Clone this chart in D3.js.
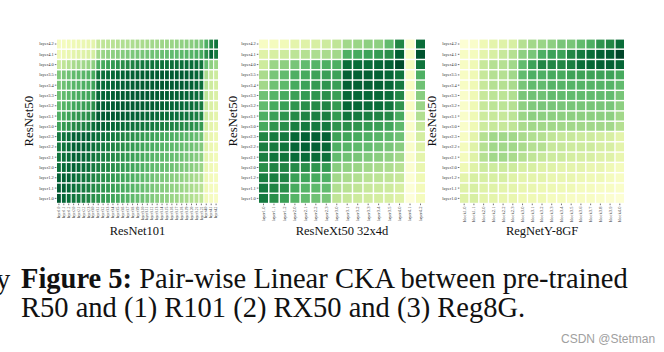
<!DOCTYPE html>
<html lang="en">
<head>
<meta charset="UTF-8">
<title>Pair-wise Linear CKA</title>
<script src="https://d3js.org/d3.v7.min.js"></script>
<style>
    body { margin: 0; background: #fff; }
    svg { display: block; }
</style>
</head>
<body>
<div id="chart"></div>
<script>
// ResNet50 layers (rows, top to bottom)
var rowLabels = ["layer4.2","layer4.1","layer4.0","layer3.5","layer3.4","layer3.3","layer3.2","layer3.1",
    "layer3.0","layer2.3","layer2.2","layer2.1","layer2.0","layer1.2","layer1.1","layer1.0"];

var r101Cols = ["layer1.0","layer1.1","layer1.2","layer2.0","layer2.1","layer2.2","layer2.3",
    "layer3.0","layer3.1","layer3.2","layer3.3","layer3.4","layer3.5","layer3.6","layer3.7","layer3.8",
    "layer3.9","layer3.10","layer3.11","layer3.12","layer3.13","layer3.14","layer3.15","layer3.16",
    "layer3.17","layer3.18","layer3.19","layer3.20","layer3.21","layer3.22","layer4.0","layer4.1","layer4.2"];

var rx50Cols = ["layer1.0","layer1.1","layer1.2","layer2.0","layer2.1","layer2.2","layer2.3",
    "layer3.0","layer3.1","layer3.2","layer3.3","layer3.4","layer3.5","layer4.0","layer4.1","layer4.2"];

var reg8gCols = ["block1.0","block1.1","block2.0","block2.1","block2.2","block2.3","block3.0","block3.1",
    "block3.2","block3.3","block3.4","block3.5","block3.6","block3.7","block3.8","block3.9","block4.0"];

// CKA values, one row per ResNet50 layer
var r101Values = [
    [0.12,0.12,0.14,0.15,0.16,0.17,0.18,0.2,0.3,0.32,0.33,0.34,0.35,0.36,0.36,0.37,0.38,0.38,0.39,0.4,0.4,0.41,0.42,0.42,0.43,0.44,0.45,0.46,0.48,0.5,0.6,0.75,0.82],
    [0.15,0.16,0.18,0.2,0.22,0.22,0.24,0.26,0.4,0.42,0.44,0.45,0.46,0.47,0.48,0.49,0.5,0.5,0.51,0.52,0.52,0.53,0.54,0.55,0.55,0.56,0.57,0.58,0.6,0.62,0.72,0.88,0.8],
    [0.3,0.32,0.35,0.38,0.4,0.4,0.42,0.45,0.6,0.62,0.65,0.68,0.7,0.72,0.74,0.76,0.78,0.8,0.8,0.82,0.82,0.83,0.83,0.84,0.84,0.84,0.85,0.85,0.84,0.82,0.55,0.45,0.42],
    [0.48,0.5,0.52,0.55,0.56,0.57,0.58,0.62,0.82,0.84,0.86,0.87,0.88,0.89,0.9,0.9,0.9,0.91,0.91,0.91,0.92,0.92,0.92,0.92,0.92,0.92,0.91,0.9,0.88,0.85,0.38,0.3,0.28],
    [0.5,0.52,0.55,0.57,0.58,0.6,0.6,0.65,0.85,0.86,0.88,0.89,0.9,0.9,0.91,0.91,0.92,0.92,0.92,0.92,0.93,0.93,0.93,0.92,0.92,0.92,0.91,0.9,0.88,0.85,0.35,0.28,0.26],
    [0.52,0.55,0.57,0.6,0.62,0.63,0.64,0.68,0.88,0.89,0.9,0.91,0.92,0.92,0.92,0.93,0.93,0.93,0.93,0.92,0.92,0.92,0.91,0.91,0.9,0.9,0.89,0.88,0.86,0.83,0.33,0.26,0.24],
    [0.55,0.58,0.6,0.63,0.65,0.66,0.67,0.72,0.9,0.91,0.92,0.92,0.93,0.93,0.93,0.92,0.92,0.92,0.91,0.91,0.9,0.9,0.89,0.88,0.88,0.87,0.86,0.85,0.83,0.8,0.3,0.24,0.22],
    [0.6,0.62,0.65,0.68,0.7,0.7,0.72,0.76,0.92,0.92,0.93,0.93,0.92,0.92,0.91,0.9,0.9,0.89,0.88,0.88,0.87,0.86,0.85,0.85,0.84,0.83,0.82,0.8,0.78,0.75,0.28,0.22,0.2],
    [0.65,0.68,0.7,0.74,0.76,0.77,0.78,0.85,0.9,0.9,0.89,0.88,0.87,0.86,0.85,0.84,0.83,0.82,0.81,0.8,0.79,0.78,0.77,0.76,0.75,0.74,0.73,0.72,0.7,0.68,0.26,0.2,0.18],
    [0.8,0.82,0.84,0.9,0.9,0.9,0.9,0.86,0.85,0.84,0.82,0.8,0.78,0.76,0.74,0.72,0.7,0.68,0.66,0.65,0.64,0.62,0.61,0.6,0.59,0.58,0.57,0.56,0.54,0.52,0.24,0.18,0.16],
    [0.8,0.82,0.85,0.9,0.91,0.9,0.88,0.84,0.82,0.8,0.78,0.76,0.74,0.72,0.7,0.68,0.66,0.64,0.62,0.61,0.6,0.58,0.57,0.56,0.55,0.54,0.53,0.52,0.5,0.48,0.22,0.17,0.15],
    [0.82,0.84,0.86,0.9,0.9,0.88,0.86,0.82,0.8,0.78,0.76,0.74,0.72,0.7,0.68,0.66,0.64,0.62,0.6,0.58,0.57,0.56,0.55,0.54,0.53,0.52,0.5,0.49,0.47,0.45,0.2,0.16,0.14],
    [0.84,0.86,0.88,0.9,0.88,0.86,0.84,0.8,0.78,0.76,0.74,0.72,0.7,0.68,0.66,0.64,0.62,0.6,0.58,0.56,0.55,0.54,0.53,0.52,0.5,0.49,0.48,0.46,0.44,0.42,0.18,0.15,0.13],
    [0.9,0.9,0.9,0.86,0.84,0.82,0.8,0.76,0.74,0.72,0.7,0.68,0.66,0.64,0.62,0.6,0.58,0.56,0.54,0.52,0.5,0.49,0.48,0.46,0.45,0.44,0.42,0.4,0.38,0.36,0.16,0.13,0.12],
    [0.92,0.9,0.88,0.84,0.82,0.8,0.78,0.74,0.72,0.7,0.68,0.66,0.64,0.62,0.6,0.58,0.56,0.54,0.52,0.5,0.48,0.47,0.46,0.44,0.43,0.42,0.4,0.38,0.36,0.34,0.15,0.12,0.11],
    [0.94,0.88,0.85,0.82,0.8,0.78,0.76,0.72,0.7,0.68,0.66,0.64,0.62,0.6,0.58,0.56,0.54,0.52,0.5,0.48,0.46,0.45,0.44,0.42,0.41,0.4,0.38,0.36,0.34,0.32,0.14,0.11,0.1]
];

var rx50Values = [
    [0.1,0.12,0.14,0.2,0.22,0.25,0.28,0.32,0.4,0.42,0.45,0.45,0.55,0.75,0.08,0.85],
    [0.22,0.25,0.28,0.33,0.35,0.37,0.38,0.4,0.6,0.62,0.65,0.68,0.72,0.9,0.1,0.95],
    [0.28,0.42,0.45,0.5,0.55,0.58,0.6,0.6,0.85,0.86,0.86,0.88,0.9,0.98,0.12,0.82],
    [0.38,0.5,0.55,0.6,0.62,0.65,0.66,0.65,0.9,0.9,0.9,0.9,0.88,0.82,0.1,0.6],
    [0.4,0.52,0.56,0.62,0.65,0.68,0.7,0.66,0.9,0.9,0.9,0.9,0.88,0.8,0.1,0.52],
    [0.52,0.58,0.62,0.66,0.68,0.7,0.72,0.66,0.88,0.88,0.88,0.87,0.85,0.75,0.1,0.46],
    [0.55,0.62,0.66,0.7,0.72,0.74,0.76,0.68,0.88,0.87,0.86,0.85,0.82,0.7,0.1,0.42],
    [0.6,0.66,0.7,0.74,0.76,0.78,0.78,0.68,0.82,0.8,0.78,0.76,0.74,0.62,0.08,0.36],
    [0.62,0.7,0.72,0.78,0.8,0.8,0.8,0.7,0.72,0.7,0.68,0.66,0.64,0.56,0.08,0.3],
    [0.75,0.8,0.8,0.88,0.9,0.9,0.9,0.65,0.64,0.62,0.6,0.58,0.56,0.52,0.08,0.26],
    [0.78,0.8,0.82,0.88,0.9,0.9,0.88,0.6,0.58,0.56,0.55,0.52,0.5,0.46,0.08,0.22],
    [0.78,0.82,0.82,0.86,0.86,0.86,0.84,0.55,0.52,0.5,0.48,0.46,0.44,0.4,0.07,0.2],
    [0.72,0.76,0.76,0.74,0.72,0.7,0.68,0.46,0.44,0.42,0.4,0.38,0.37,0.34,0.06,0.18],
    [0.78,0.78,0.76,0.66,0.64,0.62,0.6,0.4,0.38,0.36,0.34,0.33,0.32,0.3,0.05,0.15],
    [0.8,0.76,0.72,0.62,0.58,0.56,0.55,0.36,0.34,0.32,0.3,0.29,0.28,0.25,0.04,0.13],
    [0.8,0.72,0.66,0.58,0.55,0.52,0.5,0.32,0.3,0.28,0.27,0.26,0.25,0.22,0.03,0.12]
];

var reg8gValues = [
    [0.05,0.08,0.15,0.2,0.22,0.25,0.35,0.4,0.42,0.45,0.5,0.5,0.55,0.6,0.7,0.75,0.85],
    [0.1,0.12,0.2,0.25,0.3,0.35,0.45,0.5,0.6,0.65,0.65,0.75,0.8,0.85,0.9,0.92,1.0],
    [0.1,0.15,0.3,0.35,0.35,0.4,0.55,0.65,0.75,0.75,0.75,0.78,0.85,0.88,0.9,0.9,0.88],
    [0.1,0.15,0.3,0.35,0.35,0.4,0.55,0.6,0.6,0.62,0.62,0.65,0.65,0.65,0.65,0.65,0.62],
    [0.1,0.15,0.3,0.35,0.35,0.38,0.5,0.55,0.55,0.58,0.58,0.58,0.58,0.58,0.58,0.58,0.55],
    [0.08,0.15,0.3,0.33,0.33,0.36,0.5,0.52,0.52,0.55,0.55,0.55,0.55,0.55,0.55,0.55,0.5],
    [0.08,0.15,0.3,0.33,0.33,0.35,0.45,0.48,0.5,0.5,0.5,0.5,0.5,0.5,0.5,0.5,0.45],
    [0.08,0.15,0.28,0.3,0.3,0.33,0.42,0.45,0.45,0.45,0.45,0.45,0.45,0.45,0.45,0.45,0.4],
    [0.08,0.15,0.28,0.3,0.3,0.32,0.38,0.4,0.4,0.4,0.4,0.4,0.4,0.4,0.4,0.4,0.35],
    [0.1,0.2,0.35,0.4,0.4,0.4,0.38,0.36,0.35,0.32,0.3,0.3,0.28,0.28,0.26,0.25,0.2],
    [0.12,0.22,0.35,0.4,0.4,0.4,0.38,0.35,0.35,0.3,0.3,0.28,0.28,0.28,0.25,0.25,0.2],
    [0.12,0.22,0.35,0.4,0.4,0.38,0.35,0.32,0.3,0.28,0.28,0.26,0.25,0.25,0.22,0.22,0.18],
    [0.15,0.22,0.28,0.28,0.28,0.28,0.25,0.25,0.22,0.22,0.2,0.2,0.2,0.18,0.18,0.15,0.12],
    [0.2,0.25,0.25,0.25,0.25,0.22,0.2,0.2,0.2,0.18,0.18,0.18,0.16,0.15,0.15,0.12,0.1],
    [0.22,0.25,0.22,0.22,0.2,0.2,0.18,0.18,0.16,0.16,0.15,0.15,0.12,0.12,0.1,0.1,0.08],
    [0.22,0.25,0.2,0.2,0.18,0.18,0.15,0.15,0.15,0.12,0.12,0.1,0.1,0.1,0.08,0.06,0.05]
];

var svg = d3.select("#chart")
    .append("svg")
    .attr("width", 664)
    .attr("height", 352);

var color = d3.scaleSequential(d3.interpolateYlGn).domain([0, 1]);

var gridTop = 39.6, gridBottom = 202.8;
var serif = "Liberation Serif, Times New Roman, serif";

var panels = [
    { cols: r101Cols, values: r101Values, left: 57, right: 218, padX: 0.22, xFont: 3.6, xTitle: "ResNet101", yTitleX: 33 },
    { cols: rx50Cols, values: rx50Values, left: 259, right: 425, padX: 0.14, xFont: 4.5, xTitle: "ResNeXt50 32x4d", yTitleX: 237 },
    { cols: reg8gCols, values: reg8gValues, left: 460, right: 624, padX: 0.14, xFont: 4.5, xTitle: "RegNetY-8GF", yTitleX: 436 }
];

panels.forEach(function(p) {
    var x = d3.scaleBand().domain(p.cols).range([p.left, p.right]).paddingInner(p.padX);
    var y = d3.scaleBand().domain(rowLabels).range([gridTop, gridBottom]).paddingInner(0.14);

    var cells = [];
    p.values.forEach(function(row, i) {
        row.forEach(function(v, j) {
            cells.push({ row: rowLabels[i], col: p.cols[j], value: v });
        });
    });

    var g = svg.append("g");

    g.selectAll("rect")
        .data(cells)
        .enter()
        .append("rect")
        .attr("x", function(d) { return x(d.col); })
        .attr("y", function(d) { return y(d.row); })
        .attr("width", x.bandwidth())
        .attr("height", y.bandwidth())
        .attr("fill", function(d) { return color(d.value); });

    // row labels
    var ya = g.append("g")
        .attr("transform", "translate(" + (p.left - 0.6) + ",0)")
        .call(d3.axisLeft(y).tickSize(1.6).tickPadding(1));
    ya.select(".domain").remove();
    ya.selectAll("line").attr("stroke", "#333").attr("stroke-width", 0.7);
    ya.selectAll("text")
        .attr("font-family", serif)
        .attr("font-size", 4.5)
        .attr("fill", "#333");

    // column labels
    var xa = g.append("g")
        .attr("transform", "translate(0," + (gridBottom + 0.8) + ")")
        .call(d3.axisBottom(x).tickSize(1.6).tickPadding(1));
    xa.select(".domain").remove();
    xa.selectAll("line").attr("stroke", "#333").attr("stroke-width", 0.7);
    xa.selectAll("text")
        .attr("transform", "rotate(-90)")
        .attr("text-anchor", "end")
        .attr("x", -3)
        .attr("y", 0)
        .attr("dy", "0.32em")
        .attr("font-family", serif)
        .attr("font-size", p.xFont)
        .attr("fill", "#333");

    g.append("text")
        .attr("x", (p.left + p.right) / 2)
        .attr("y", 235)
        .attr("text-anchor", "middle")
        .attr("font-family", serif)
        .attr("font-size", 12.5)
        .attr("fill", "#111")
        .text(p.xTitle);

    g.append("text")
        .attr("transform", "translate(" + p.yTitleX + "," + ((gridTop + gridBottom) / 2) + ") rotate(-90)")
        .attr("text-anchor", "middle")
        .attr("font-family", serif)
        .attr("font-size", 12.8)
        .attr("fill", "#111")
        .text("ResNet50");
});

// caption
svg.append("text")
    .attr("x", -4).attr("y", 289)
    .attr("font-family", serif).attr("font-size", 28.5).attr("fill", "#111")
    .text("y");

var line1 = svg.append("text")
    .attr("x", 21).attr("y", 288)
    .attr("font-family", serif).attr("font-size", 28.5).attr("fill", "#111");
line1.append("tspan").attr("font-weight", "bold").text("Figure 5:");
line1.append("tspan").text(" Pair-wise Linear CKA between pre-trained");

svg.append("text")
    .attr("x", 21).attr("y", 317)
    .attr("font-family", serif).attr("font-size", 28.5).attr("fill", "#111")
    .text("R50 and (1) R101 (2) RX50 and (3) Reg8G.");

svg.append("text")
    .attr("x", 561).attr("y", 343)
    .attr("font-family", "Liberation Sans, Arial, sans-serif").attr("font-size", 12).attr("fill", "#a0a0a0")
    .text("CSDN @Stetman");
</script>
</body>
</html>
